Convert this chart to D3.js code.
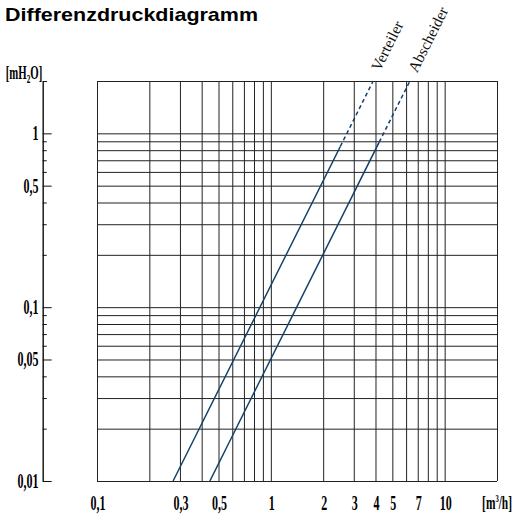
<!DOCTYPE html>
<meta charset="utf-8">
<style>
body { margin: 0; background: #fff; }
.grid line { stroke: #222; stroke-width: 1; shape-rendering: auto; }
.grid path { display: none; }
.lab text { font-family: "Liberation Serif", serif; font-weight: bold; font-size: 20px; fill: #000; }
.yaxis path, .yaxis line { stroke: #111; stroke-width: 1; fill: none; }
.curve { fill: none; stroke: #123f6f; stroke-width: 1.5; }
.curvelabel { font-family: "Liberation Serif", serif; font-size: 15.5px; fill: #111; }
</style>
<body>
<script src="https://d3js.org/d3.v7.min.js"></script>
<script>

// flow [m3/h] and pressure drop [mH2O]: start, end of solid part, top edge
var flowVerteiler = [0.274, 2.51, 3.88];
var dpVerteiler = [0.01, 0.84, 2];
var flowAbscheider = [0.446, 4.2, 6.31];
var dpAbscheider = [0.01, 0.89, 2];
var seriesNames = ["Verteiler", "Abscheider"];

var xTickValues = [0.1, 0.3, 0.5, 1, 2, 3, 4, 5, 7, 10];
var xTickLabels = ["0,1", "0,3", "0,5", "1", "2", "3", "4", "5", "7", "10"];
var yTickValues = [1, 0.5, 0.1, 0.05, 0.01];
var yTickLabels = ["1", "0,5", "0,1", "0,05", "0,01"];

var margin = {top: 81, left: 97},
    width = 400,
    height = 400;

var svg = d3.select("body").append("svg")
    .attr("width", 513)
    .attr("height", 515);

svg.append("text")
    .attr("x", 5)
    .attr("y", 21)
    .attr("textLength", 253)
    .attr("lengthAdjust", "spacingAndGlyphs")
    .style("font-family", "'Liberation Sans', Arial, sans-serif")
    .style("font-weight", "bold")
    .style("font-size", "19px")
    .text("Differenzdruckdiagramm");

var chart = svg.append("g")
    .attr("transform", "translate(" + margin.left + "," + margin.top + ")");

var x = d3.scaleLog().domain([0.1, 20]).range([0, width]);
var y = d3.scaleLog().domain([0.01, 2]).range([height, 0]);

// grid
chart.append("g")
    .attr("class", "grid")
    .attr("transform", "translate(0," + height + ")")
    .call(d3.axisBottom(x).tickValues(x.ticks()).tickSize(-height).tickFormat(""));

chart.append("g")
    .attr("class", "grid")
    .call(d3.axisLeft(y).tickValues(y.ticks()).tickSize(-width).tickFormat(""));

// x labels
var xAxis = chart.append("g")
    .attr("class", "lab")
    .attr("transform", "translate(0," + height + ")")
    .call(d3.axisBottom(x)
        .tickValues(xTickValues)
        .tickSize(0)
        .tickPadding(15)
        .tickFormat(function(d, i) { return xTickLabels[i]; }));
xAxis.select(".domain").remove();
xAxis.selectAll("text").attr("transform", "scale(0.6,1)");
xAxis.selectAll(".tick").attr("transform", function(d) { return "translate(" + (x(d) + 1) + ",0)"; });

// y axis, separate line left of the grid
var yAxisX = -54.3;
var minorTicks = y.ticks().filter(function(d) { return yTickValues.indexOf(d) < 0; });

chart.append("g")
    .attr("class", "yaxis")
    .attr("transform", "translate(" + yAxisX + ",0)")
    .call(d3.axisLeft(y).tickValues(minorTicks).tickSizeInner(-4).tickSizeOuter(-4).tickFormat(""));

var yMajor = chart.append("g")
    .attr("class", "yaxis lab")
    .attr("transform", "translate(" + yAxisX + ",0)")
    .call(d3.axisLeft(y)
        .tickValues(yTickValues)
        .tickSizeInner(-9)
        .tickSizeOuter(-4)
        .tickPadding(7)
        .tickFormat(function(d, i) { return yTickLabels[i]; }));
yMajor.selectAll("text").attr("transform", "scale(0.6,1)");

// units
svg.append("text")
    .attr("transform", "translate(24,79) scale(0.6,1)")
    .attr("text-anchor", "middle")
    .style("font-family", "'Liberation Serif', serif")
    .style("font-weight", "bold")
    .style("font-size", "18px")
    .call(function(t) {
      t.append("tspan").text("[mH");
      t.append("tspan").attr("dy", 4).style("font-size", "12px").text("2");
      t.append("tspan").attr("dy", -4).text("O]");
    });

svg.append("text")
    .attr("transform", "translate(512,509) scale(0.6,1)")
    .attr("text-anchor", "end")
    .style("font-family", "'Liberation Serif', serif")
    .style("font-weight", "bold")
    .style("font-size", "19px")
    .call(function(t) {
      t.append("tspan").text("[m");
      t.append("tspan").attr("dy", -7).style("font-size", "11px").text("3");
      t.append("tspan").attr("dy", 7).text("/h]");
    });

// curves
var series = [
  {name: seriesNames[0], flow: flowVerteiler, dp: dpVerteiler, dx: 11, dy: 2},
  {name: seriesNames[1], flow: flowAbscheider, dp: dpAbscheider, dx: 10, dy: 3}
];

var line = d3.line()
    .x(function(d) { return x(d[0]); })
    .y(function(d) { return y(d[1]); });

series.forEach(function(s) {
  var pts = s.flow.map(function(f, i) { return [f, s.dp[i]]; });
  chart.append("path").attr("class", "curve").attr("d", line(pts.slice(0, 2)));
  chart.append("path").attr("class", "curve").attr("d", line(pts.slice(1)))
      .style("stroke-dasharray", "4,3");
  var top = pts[pts.length - 1];
  var angle = Math.atan2(y(pts[0][1]) - y(top[1]), x(top[0]) - x(pts[0][0])) * 180 / Math.PI;
  chart.append("text")
      .attr("class", "curvelabel")
      .attr("transform", "translate(" + x(top[0]) + "," + y(top[1]) + ") rotate(" + (-angle) + ")")
      .attr("x", s.dx)
      .attr("y", s.dy)
      .text(s.name);
});

</script>
</body>
